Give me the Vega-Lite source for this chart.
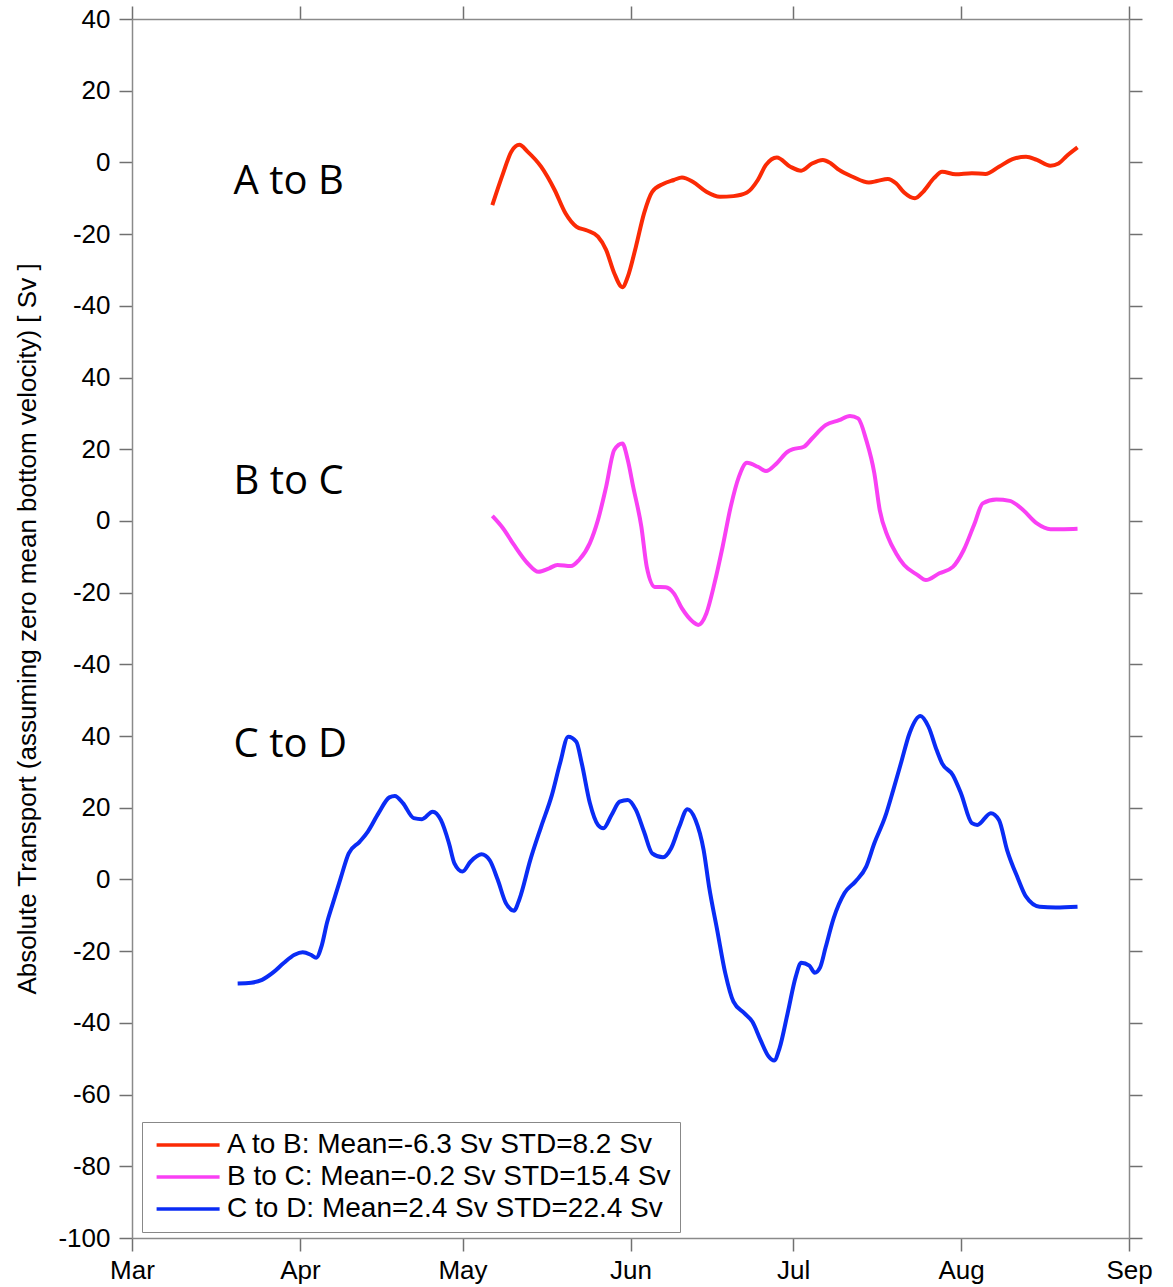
{
  "$schema": "https://vega.github.io/schema/vega-lite/v6.json",
  "width": 997,
  "height": 1219,
  "autosize": {"type": "none"},
  "padding": {"left": 132, "top": 19, "right": 44, "bottom": 49},
  "background": "white",
  "datasets": {
    "ab": [
      {"d":"2013-05-06T12:00Z","sv":-11.9},{"d":"2013-05-08T12:00Z","sv":-3.0},{"d":"2013-05-10","sv":3.0},{"d":"2013-05-11T12:00Z","sv":4.9},{"d":"2013-05-13","sv":3.0},{"d":"2013-05-15T12:00Z","sv":-1.2},{"d":"2013-05-18","sv":-7.7},{"d":"2013-05-20","sv":-14.2},{"d":"2013-05-22","sv":-17.9},{"d":"2013-05-24","sv":-19.0},{"d":"2013-05-26","sv":-20.7},{"d":"2013-05-27T12:00Z","sv":-24.4},{"d":"2013-05-29","sv":-30.9},{"d":"2013-05-30T12:00Z","sv":-34.8},{"d":"2013-05-31T12:00Z","sv":-31.9},{"d":"2013-06-02","sv":-23.5},{"d":"2013-06-03T12:00Z","sv":-14.2},{"d":"2013-06-05","sv":-8.2},{"d":"2013-06-07","sv":-6.0},{"d":"2013-06-09","sv":-4.9},{"d":"2013-06-10T12:00Z","sv":-4.2},{"d":"2013-06-12T12:00Z","sv":-5.4},{"d":"2013-06-15","sv":-8.2},{"d":"2013-06-17T12:00Z","sv":-9.6},{"d":"2013-06-20","sv":-9.4},{"d":"2013-06-22T12:00Z","sv":-8.4},{"d":"2013-06-24T12:00Z","sv":-4.9},{"d":"2013-06-26","sv":-0.7},{"d":"2013-06-28","sv":1.4},{"d":"2013-06-30T12:00Z","sv":-1.2},{"d":"2013-07-02T12:00Z","sv":-2.3},{"d":"2013-07-04T12:00Z","sv":-0.3},{"d":"2013-07-06T12:00Z","sv":0.7},{"d":"2013-07-08","sv":-0.3},{"d":"2013-07-09T12:00Z","sv":-2.1},{"d":"2013-07-12","sv":-4.0},{"d":"2013-07-15","sv":-5.6},{"d":"2013-07-16T12:00Z","sv":-5.2},{"d":"2013-07-18T12:00Z","sv":-4.6},{"d":"2013-07-20","sv":-5.8},{"d":"2013-07-21T12:00Z","sv":-8.4},{"d":"2013-07-23T12:00Z","sv":-10.0},{"d":"2013-07-25","sv":-8.2},{"d":"2013-07-27","sv":-4.4},{"d":"2013-07-28T12:00Z","sv":-2.6},{"d":"2013-07-31","sv":-3.3},{"d":"2013-08-03","sv":-3.0},{"d":"2013-08-05T12:00Z","sv":-3.2},{"d":"2013-08-08","sv":-1.2},{"d":"2013-08-10T12:00Z","sv":0.9},{"d":"2013-08-13","sv":1.6},{"d":"2013-08-15","sv":0.7},{"d":"2013-08-17T12:00Z","sv":-0.9},{"d":"2013-08-19","sv":-0.3},{"d":"2013-08-20T12:00Z","sv":1.8},{"d":"2013-08-22T12:00Z","sv":4.2}
    ],
    "bc": [
      {"d":"2013-05-06T12:00Z","sv":1.4},{"d":"2013-05-08T12:00Z","sv":-2.1},{"d":"2013-05-10T12:00Z","sv":-6.7},{"d":"2013-05-13","sv":-11.8},{"d":"2013-05-15","sv":-14.2},{"d":"2013-05-17","sv":-13.2},{"d":"2013-05-18T12:00Z","sv":-12.3},{"d":"2013-05-21","sv":-12.6},{"d":"2013-05-22T12:00Z","sv":-10.9},{"d":"2013-05-24T12:00Z","sv":-6.2},{"d":"2013-05-26","sv":0.3},{"d":"2013-05-27T12:00Z","sv":9.5},{"d":"2013-05-29","sv":19.8},{"d":"2013-05-30T12:00Z","sv":21.6},{"d":"2013-05-31T12:00Z","sv":17.0},{"d":"2013-06-01T12:00Z","sv":9.5},{"d":"2013-06-03","sv":-1.6},{"d":"2013-06-04","sv":-12.8},{"d":"2013-06-05T12:00Z","sv":-18.4},{"d":"2013-06-07T12:00Z","sv":-18.5},{"d":"2013-06-09","sv":-20.2},{"d":"2013-06-10T12:00Z","sv":-24.4},{"d":"2013-06-12T12:00Z","sv":-28.1},{"d":"2013-06-13T12:00Z","sv":-29.0},{"d":"2013-06-15","sv":-25.8},{"d":"2013-06-16T12:00Z","sv":-17.4},{"d":"2013-06-18","sv":-7.2},{"d":"2013-06-19T12:00Z","sv":4.0},{"d":"2013-06-21","sv":12.3},{"d":"2013-06-22T12:00Z","sv":16.2},{"d":"2013-06-24T12:00Z","sv":15.1},{"d":"2013-06-26","sv":13.9},{"d":"2013-06-28","sv":16.1},{"d":"2013-06-30","sv":19.3},{"d":"2013-07-01","sv":20.0},{"d":"2013-07-03","sv":20.7},{"d":"2013-07-04T12:00Z","sv":23.0},{"d":"2013-07-07","sv":26.7},{"d":"2013-07-09T12:00Z","sv":28.1},{"d":"2013-07-11T12:00Z","sv":29.3},{"d":"2013-07-13","sv":28.6},{"d":"2013-07-14T12:00Z","sv":22.6},{"d":"2013-07-16","sv":13.3},{"d":"2013-07-17","sv":3.0},{"d":"2013-07-18T12:00Z","sv":-4.4},{"d":"2013-07-20","sv":-9.0},{"d":"2013-07-21T12:00Z","sv":-12.3},{"d":"2013-07-24","sv":-15.1},{"d":"2013-07-25T12:00Z","sv":-16.5},{"d":"2013-07-28","sv":-14.6},{"d":"2013-07-30T12:00Z","sv":-12.8},{"d":"2013-08-01T12:00Z","sv":-8.1},{"d":"2013-08-03T12:00Z","sv":-0.7},{"d":"2013-08-05","sv":4.9},{"d":"2013-08-07T12:00Z","sv":6.0},{"d":"2013-08-10","sv":5.6},{"d":"2013-08-12T12:00Z","sv":3.0},{"d":"2013-08-15","sv":-0.7},{"d":"2013-08-17T12:00Z","sv":-2.3},{"d":"2013-08-20","sv":-2.3},{"d":"2013-08-22T12:00Z","sv":-2.2}
    ],
    "cd": [
      {"d":"2013-03-20T12:00Z","sv":-29.0},{"d":"2013-03-23","sv":-28.8},{"d":"2013-03-25","sv":-28.0},{"d":"2013-03-27","sv":-26.0},{"d":"2013-03-29","sv":-23.3},{"d":"2013-03-31","sv":-21.0},{"d":"2013-04-01T12:00Z","sv":-20.3},{"d":"2013-04-03","sv":-21.0},{"d":"2013-04-04","sv":-21.8},{"d":"2013-04-05","sv":-18.5},{"d":"2013-04-06","sv":-12.0},{"d":"2013-04-07","sv":-7.0},{"d":"2013-04-08T12:00Z","sv":0.3},{"d":"2013-04-10","sv":7.3},{"d":"2013-04-12","sv":10.5},{"d":"2013-04-13T12:00Z","sv":13.3},{"d":"2013-04-15T12:00Z","sv":18.5},{"d":"2013-04-17T12:00Z","sv":22.9},{"d":"2013-04-18T12:00Z","sv":23.3},{"d":"2013-04-20","sv":21.3},{"d":"2013-04-22","sv":17.1},{"d":"2013-04-23T12:00Z","sv":16.8},{"d":"2013-04-25T12:00Z","sv":18.9},{"d":"2013-04-27","sv":16.6},{"d":"2013-04-28T12:00Z","sv":10.1},{"d":"2013-04-29T12:00Z","sv":4.5},{"d":"2013-05-01","sv":2.2},{"d":"2013-05-02T12:00Z","sv":5.0},{"d":"2013-05-04T12:00Z","sv":7.0},{"d":"2013-05-06","sv":5.4},{"d":"2013-05-07T12:00Z","sv":-0.1},{"d":"2013-05-09","sv":-6.6},{"d":"2013-05-10T12:00Z","sv":-8.7},{"d":"2013-05-11T12:00Z","sv":-5.5},{"d":"2013-05-13T12:00Z","sv":5.4},{"d":"2013-05-15T12:00Z","sv":14.7},{"d":"2013-05-17T12:00Z","sv":23.6},{"d":"2013-05-19","sv":32.4},{"d":"2013-05-20T12:00Z","sv":39.8},{"d":"2013-05-22","sv":38.4},{"d":"2013-05-23","sv":32.4},{"d":"2013-05-24T12:00Z","sv":21.3},{"d":"2013-05-26","sv":15.2},{"d":"2013-05-27","sv":14.3},{"d":"2013-05-28T12:00Z","sv":18.0},{"d":"2013-05-30","sv":21.7},{"d":"2013-05-31T12:00Z","sv":22.2},{"d":"2013-06-02","sv":19.4},{"d":"2013-06-03T12:00Z","sv":13.3},{"d":"2013-06-05","sv":7.3},{"d":"2013-06-07","sv":6.2},{"d":"2013-06-08T12:00Z","sv":8.7},{"d":"2013-06-10","sv":14.7},{"d":"2013-06-11T12:00Z","sv":19.6},{"d":"2013-06-13","sv":16.6},{"d":"2013-06-14T12:00Z","sv":8.2},{"d":"2013-06-15T12:00Z","sv":-2.0},{"d":"2013-06-17","sv":-14.1},{"d":"2013-06-18T12:00Z","sv":-26.2},{"d":"2013-06-20","sv":-34.1},{"d":"2013-06-22","sv":-37.3},{"d":"2013-06-23T12:00Z","sv":-39.7},{"d":"2013-06-25","sv":-44.8},{"d":"2013-06-26T12:00Z","sv":-49.4},{"d":"2013-06-27T12:00Z","sv":-50.5},{"d":"2013-06-28T12:00Z","sv":-47.1},{"d":"2013-06-30","sv":-37.3},{"d":"2013-07-01T12:00Z","sv":-27.1},{"d":"2013-07-02T12:00Z","sv":-23.2},{"d":"2013-07-04","sv":-24.0},{"d":"2013-07-05","sv":-26.0},{"d":"2013-07-06","sv":-24.5},{"d":"2013-07-07","sv":-19.0},{"d":"2013-07-08T12:00Z","sv":-10.8},{"d":"2013-07-10T12:00Z","sv":-3.8},{"d":"2013-07-12T12:00Z","sv":-0.6},{"d":"2013-07-14T12:00Z","sv":3.6},{"d":"2013-07-16","sv":10.1},{"d":"2013-07-18","sv":17.5},{"d":"2013-07-19T12:00Z","sv":25.0},{"d":"2013-07-21","sv":32.9},{"d":"2013-07-22T12:00Z","sv":40.8},{"d":"2013-07-24T12:00Z","sv":45.6},{"d":"2013-07-26","sv":42.6},{"d":"2013-07-27T12:00Z","sv":36.1},{"d":"2013-07-28T12:00Z","sv":32.4},{"d":"2013-07-30T12:00Z","sv":29.1},{"d":"2013-08-01","sv":24.0},{"d":"2013-08-03","sv":15.7},{"d":"2013-08-04","sv":15.2},{"d":"2013-08-06T12:00Z","sv":18.5},{"d":"2013-08-08","sv":16.6},{"d":"2013-08-09T12:00Z","sv":8.2},{"d":"2013-08-11T12:00Z","sv":0.3},{"d":"2013-08-13","sv":-4.8},{"d":"2013-08-15T12:00Z","sv":-7.6},{"d":"2013-08-18T12:00Z","sv":-7.8},{"d":"2013-08-22T12:00Z","sv":-7.6}
    ],
    "labels_ab": [{"d":"2013-03-19T18:00Z","sv":-8.8,"label":"A to B"}],
    "labels_bc": [{"d":"2013-03-19T18:00Z","sv":7.5,"label":"B to C"}],
    "labels_cd": [{"d":"2013-03-19T18:00Z","sv":34.2,"label":"C to D"}]
  },
  "layer": [
    {
      "layer": [
        {
          "mark": {"type": "rule", "stroke": "#999999", "strokeWidth": 1, "strokeDash": [1.5, 3]},
          "encoding": {"y": {"datum": 0, "type": "quantitative", "scale": {"domain": [-100, 240], "nice": false, "zero": false}}}
        },
        {
          "data": {"name": "cd"},
          "mark": {"type": "line", "strokeWidth": 4, "interpolate": "monotone"},
          "encoding": {
            "x": {"field": "d", "type": "temporal", "scale": {"type": "utc", "domain": [{"year": 2013, "month": 3, "date": 1, "utc": true}, {"year": 2013, "month": 9, "date": 1, "utc": true}], "nice": false},
              "axis": {"orient": "bottom", "title": null, "labelExpr": "utcFormat(datum.value, '%b')", "labelPadding": 6,
                "values": [{"year":2013,"month":3,"date":1,"utc":true},{"year":2013,"month":4,"date":1,"utc":true},{"year":2013,"month":5,"date":1,"utc":true},{"year":2013,"month":6,"date":1,"utc":true},{"year":2013,"month":7,"date":1,"utc":true},{"year":2013,"month":8,"date":1,"utc":true},{"year":2013,"month":9,"date":1,"utc":true}]}},
            "y": {"field": "sv", "type": "quantitative", "scale": {"domain": [-100, 240], "nice": false, "zero": false},
              "axis": {"orient": "left", "title": "Absolute Transport (assuming zero mean bottom velocity) [ Sv ]",
                "values": [-100,-80,-60,-40,-20,0,20,40,60,80,100,120,140,160,180,200,220,240],
                "labelExpr": "datum.value > 150 ? '' + (datum.value - 200) : datum.value > 50 ? '' + (datum.value - 100) : '' + datum.value",
                "labelPadding": 9, "titlePadding": 17}},
            "color": {"datum": "C to D: Mean=2.4 Sv STD=22.4 Sv", "scale": {"domain": ["A to B: Mean=-6.3 Sv STD=8.2 Sv", "B to C: Mean=-0.2 Sv STD=15.4 Sv", "C to D: Mean=2.4 Sv STD=22.4 Sv"], "range": ["#fb2a05", "#f940f4", "#0a2cf5"]}, "legend": {"title": null}}
          }
        },
        {
          "data": {"name": "labels_cd"},
          "mark": {"type": "text", "font": "Open Sans", "fontSize": 40, "align": "left", "baseline": "alphabetic", "color": "black"},
          "encoding": {
            "x": {"field": "d", "type": "temporal"},
            "y": {"field": "sv", "type": "quantitative"},
            "text": {"field": "label"}
          }
        }
      ]
    },
    {
      "layer": [
        {
          "mark": {"type": "rule", "stroke": "#999999", "strokeWidth": 1, "strokeDash": [1.5, 3]},
          "encoding": {"y": {"datum": 0, "type": "quantitative", "scale": {"domain": [-300, 40], "nice": false, "zero": false}, "axis": null}}
        },
        {
          "data": {"name": "ab"},
          "mark": {"type": "line", "strokeWidth": 4, "interpolate": "monotone"},
          "encoding": {
            "x": {"field": "d", "type": "temporal", "axis": null},
            "y": {"field": "sv", "type": "quantitative", "axis": null},
            "color": {"datum": "A to B: Mean=-6.3 Sv STD=8.2 Sv", "legend": {"title": null}}
          }
        },
        {
          "data": {"name": "labels_ab"},
          "mark": {"type": "text", "font": "Open Sans", "fontSize": 40, "align": "left", "baseline": "alphabetic", "color": "black"},
          "encoding": {
            "x": {"field": "d", "type": "temporal", "axis": null},
            "y": {"field": "sv", "type": "quantitative", "axis": null},
            "text": {"field": "label"}
          }
        }
      ]
    },
    {
      "layer": [
        {
          "mark": {"type": "rule", "stroke": "#999999", "strokeWidth": 1, "strokeDash": [1.5, 3]},
          "encoding": {"y": {"datum": 0, "type": "quantitative", "scale": {"domain": [-200, 140], "nice": false, "zero": false}, "axis": null}}
        },
        {
          "data": {"name": "bc"},
          "mark": {"type": "line", "strokeWidth": 4, "interpolate": "monotone"},
          "encoding": {
            "x": {"field": "d", "type": "temporal", "axis": null},
            "y": {"field": "sv", "type": "quantitative", "axis": null},
            "color": {"datum": "B to C: Mean=-0.2 Sv STD=15.4 Sv", "legend": {"title": null}}
          }
        },
        {
          "data": {"name": "labels_bc"},
          "mark": {"type": "text", "font": "Open Sans", "fontSize": 40, "align": "left", "baseline": "alphabetic", "color": "black"},
          "encoding": {
            "x": {"field": "d", "type": "temporal", "axis": null},
            "y": {"field": "sv", "type": "quantitative", "axis": null},
            "text": {"field": "label"}
          }
        }
      ]
    },
    {
      "data": {"name": "cd"},
      "mark": {"type": "line", "opacity": 0},
      "encoding": {
        "x": {"field": "d", "type": "temporal",
          "axis": {"orient": "top", "title": null, "labels": false,
            "values": [{"year":2013,"month":3,"date":1,"utc":true},{"year":2013,"month":4,"date":1,"utc":true},{"year":2013,"month":5,"date":1,"utc":true},{"year":2013,"month":6,"date":1,"utc":true},{"year":2013,"month":7,"date":1,"utc":true},{"year":2013,"month":8,"date":1,"utc":true},{"year":2013,"month":9,"date":1,"utc":true}]}},
        "y": {"field": "sv", "type": "quantitative", "scale": {"domain": [-100, 240], "nice": false, "zero": false},
          "axis": {"orient": "right", "title": null, "labels": false,
            "values": [-100,-80,-60,-40,-20,0,20,40,60,80,100,120,140,160,180,200,220,240]}}
      }
    }
  ],
  "resolve": {"scale": {"y": "independent"}, "axis": {"x": "independent", "y": "independent"}},
  "config": {
    "view": {"stroke": null},
    "axis": {
      "grid": false,
      "domainColor": "#8a8a8a",
      "domainWidth": 1.5,
      "tickColor": "#707070",
      "tickWidth": 1.5,
      "tickSize": 13,
      "labelFont": "Liberation Sans",
      "labelFontSize": 26,
      "labelColor": "black",
      "labelFlush": false,
      "labelOverlap": false,
      "titleFont": "Liberation Sans",
      "titleFontSize": 26,
      "titleFontWeight": "normal",
      "titleColor": "black"
    },
    "legend": {
      "orient": "none",
      "legendX": 10,
      "legendY": 1103,
      "direction": "vertical",
      "padding": 9,
      "rowPadding": 4,
      "strokeColor": "#888888",
      "fillColor": "white",
      "cornerRadius": 0,
      "symbolType": "M-0.8,0H5.2",
      "symbolSize": 441,
      "symbolStrokeWidth": 3.5,
      "labelOffset": 48,
      "labelFont": "Liberation Sans",
      "labelFontSize": 28,
      "labelColor": "black",
      "labelLimit": 900,
      "labelExpr": "datum.label + '\u00a0\u00a0\u00a0\u00a0\u00a0\u00a0\u00a0\u00a0\u00a0\u00a0'"
    }
  }
}
